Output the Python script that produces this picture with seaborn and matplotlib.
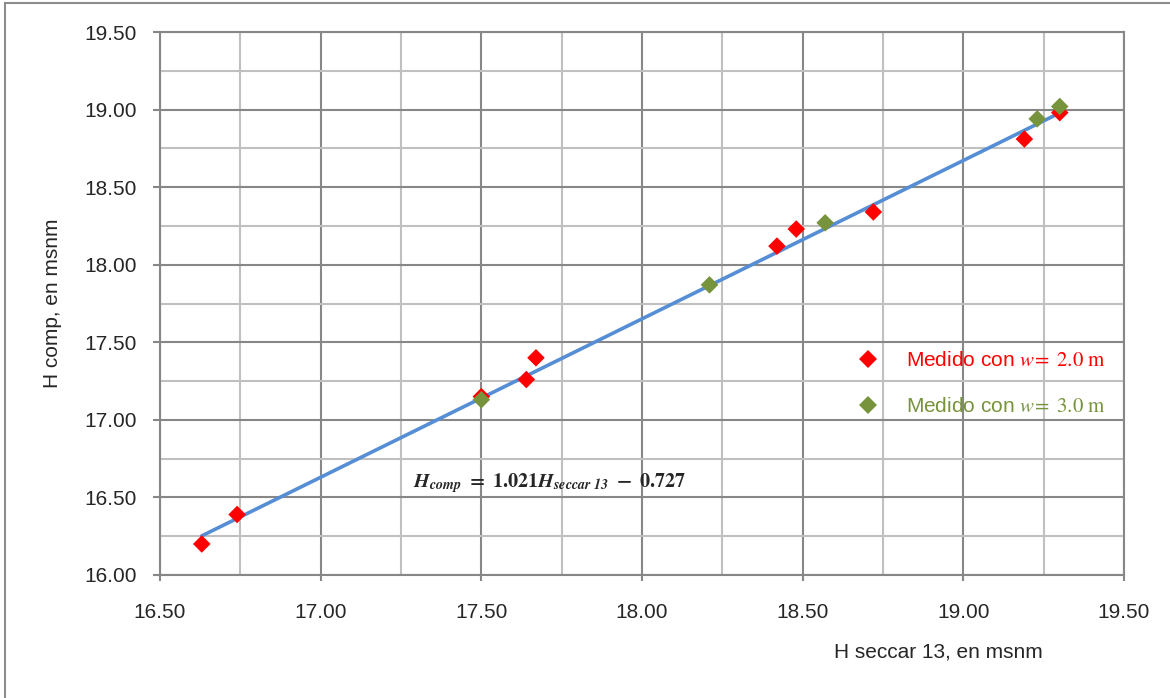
import numpy as np
import pandas as pd
import matplotlib.pyplot as plt
import matplotlib.patches as mpatches
from matplotlib.ticker import MultipleLocator, FormatStrFormatter
import seaborn as sns

# Medido con w = 2.0 m
x_w2 = [16.63, 16.74, 17.50, 17.64, 17.67, 18.42, 18.48, 18.72, 19.19, 19.30]
y_w2 = [16.20, 16.39, 17.15, 17.26, 17.40, 18.12, 18.23, 18.34, 18.81, 18.98]

# Medido con w = 3.0 m
x_w3 = [17.50, 18.21, 18.57, 19.23, 19.30]
y_w3 = [17.13, 17.87, 18.27, 18.94, 19.02]

# linear fit shown on chart
slope = 1.021
intercept = -0.727

label_w2 = r"Medido con $\mathit{w}\!=\ \mathrm{2.0\ m}$"
label_w3 = r"Medido con $\mathit{w}\!=\ \mathrm{3.0\ m}$"

sns.set_style("white")
plt.rcParams["font.family"] = ["Liberation Sans", "DejaVu Sans"]
plt.rcParams["mathtext.fontset"] = "stix"

df = pd.DataFrame({
    "x": x_w2 + x_w3,
    "y": y_w2 + y_w3,
    "serie": [label_w2] * len(x_w2) + [label_w3] * len(x_w3),
})

fig = plt.figure(figsize=(11.7, 6.98), dpi=100)
ax = fig.add_axes([160 / 1170, 1 - 575 / 698, (1124 - 160) / 1170, (575 - 32) / 698])

# trend line
x_all = x_w2 + x_w3
x_line = np.array([min(x_all), max(x_all)])
sns.lineplot(x=x_line, y=slope * x_line + intercept, ax=ax, color="#558ED5",
             linewidth=2.6, zorder=3, legend=False)

sns.scatterplot(data=df, x="x", y="y", hue="serie",
                palette={label_w2: "#FF0000", label_w3: "#77933C"},
                marker="D", s=80, linewidth=0, ax=ax, zorder=4)

ax.set_xlim(16.5, 19.5)
ax.set_ylim(16.0, 19.5)
ax.xaxis.set_major_locator(MultipleLocator(0.5))
ax.yaxis.set_major_locator(MultipleLocator(0.5))
ax.xaxis.set_minor_locator(MultipleLocator(0.25))
ax.yaxis.set_minor_locator(MultipleLocator(0.25))
ax.xaxis.set_major_formatter(FormatStrFormatter("%.2f"))
ax.yaxis.set_major_formatter(FormatStrFormatter("%.2f"))

ax.grid(which="major", color="#878787", linewidth=1.5)
ax.grid(which="minor", color="#C0C0C0", linewidth=1.5)
ax.set_axisbelow(True)
for sp in ax.spines.values():
    sp.set_color("#878787")
    sp.set_linewidth(1.5)

ax.tick_params(axis="x", which="major", direction="out", length=4, width=1.5,
               color="#878787", pad=16, labelsize=15, bottom=True)
ax.tick_params(axis="y", which="major", direction="out", length=5, width=1.5,
               color="#878787", pad=12, labelsize=15, left=True)
ax.tick_params(which="minor", length=0)

ax.set_xlabel("")
ax.set_ylabel("H comp, en msnm", fontsize=15, labelpad=16)
fig.text(1043 / 1170, 1 - 652 / 698, "H seccar 13, en msnm", fontsize=15,
         ha="right", va="center")

# equation
ax.text(17.287, 16.567,
        r"$\mathbfit{H}_{\mathbfit{comp}}\mathbf{\ =\ 1.021}\mathbfit{H}_{\mathbfit{seccar\ 13}}\mathbf{\ -\ 0.727}$",
        fontsize=14.5, ha="left", va="baseline", zorder=5)

leg = ax.legend(loc="upper left", bbox_to_anchor=(0.713, 0.432), frameon=False,
                fontsize=15, handlelength=1.0, handletextpad=1.3,
                labelspacing=1.3, borderpad=0, markerscale=1.0)
for t, c in zip(leg.get_texts(), ["#FF0000", "#77933C"]):
    t.set_color(c)

# outer frame (only left/top visible in the crop)
fig.add_artist(mpatches.Rectangle((5 / 1170, -0.1), 1.2, 1.1 - 3 / 698,
                                  transform=fig.transFigure, fill=False,
                                  edgecolor="#8C8C8C", linewidth=1.5))

fig.savefig("out.png", dpi=100)
